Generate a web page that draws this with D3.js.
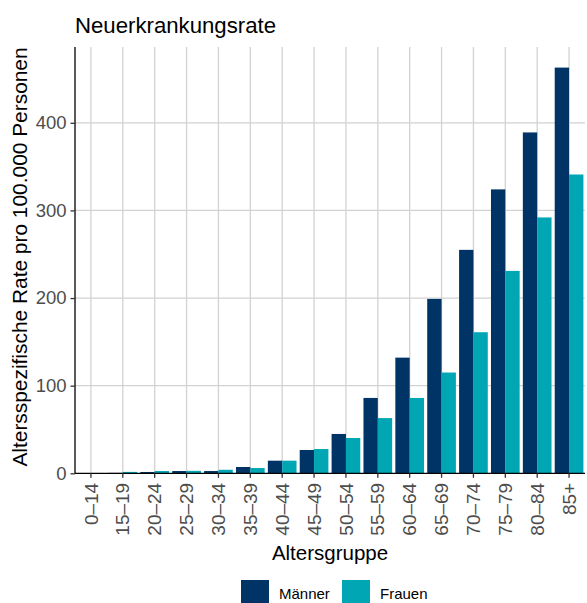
<!DOCTYPE html>
<html><head><meta charset="utf-8">
<script src="https://cdn.jsdelivr.net/npm/d3@7"></script>
<style>body{margin:0;background:#fff}svg{display:block;font-family:"Liberation Sans",Arial,sans-serif}</style>
</head><body><svg id="c" width="587" height="603"></svg>
<script>
const categories = ["0–14","15–19","20–24","25–29","30–34","35–39","40–44","45–49","50–54","55–59","60–64","65–69","70–74","75–79","80–84","85+"];
const maenner = [0.3,0.5,1.5,2.6,2.6,7.2,14.4,26.6,44.9,86,132,199,255,324,389,463];
const frauen  = [0.2,1.6,2.6,2.8,4.0,6.0,14.4,27.7,40.3,63,86,115,161,231,292,341];
const seriesNames = ["Männer","Frauen"];
const colors = ["#003366","#00a6b4"];
const yTicks = [0,100,200,300,400];

const svg = d3.select("#c");
const L=75, R=585, T=47, B=473.3;
const x = d3.scaleBand().domain(categories).range([L,R]).padding(0);
const y = d3.scaleLinear().domain([0,486.5]).range([B,T]);
const inner = d3.scaleBand().domain(seriesNames).range([0,x.bandwidth()*0.9]);

// gridlines
svg.append("g").selectAll("line").data(yTicks.filter(d=>d>0)).join("line")
  .attr("x1",L).attr("x2",R).attr("y1",d=>y(d)).attr("y2",d=>y(d))
  .attr("stroke","#d2d2d2").attr("stroke-width",1.3);
svg.append("g").selectAll("line").data(categories).join("line")
  .attr("x1",d=>x(d)+x.bandwidth()/2).attr("x2",d=>x(d)+x.bandwidth()/2)
  .attr("y1",T).attr("y2",B)
  .attr("stroke","#d2d2d2").attr("stroke-width",1.3);

// bars
const data = categories.map((c,i)=>({c, vals:[maenner[i],frauen[i]]}));
const g = svg.append("g").selectAll("g").data(data).join("g")
  .attr("transform",d=>`translate(${x(d.c)+x.bandwidth()*0.05},0)`);
g.selectAll("rect").data(d=>d.vals.map((v,j)=>({v,s:seriesNames[j],j}))).join("rect")
  .attr("x",d=>inner(d.s)).attr("width",inner.bandwidth())
  .attr("y",d=>y(d.v)).attr("height",d=>B-y(d.v))
  .attr("fill",d=>colors[d.j]);

// axes
const yAxis = svg.append("g").attr("transform",`translate(${L},0)`)
  .call(d3.axisLeft(y).tickValues(yTicks).tickSize(4.5).tickPadding(4));
yAxis.select(".domain").attr("d",`M0,${T}V${B}`).attr("stroke","#000").attr("stroke-width",1.3);
yAxis.selectAll(".tick line").attr("stroke","#333").attr("stroke-width",1.3);
yAxis.selectAll(".tick text").attr("font-size",18.5).attr("fill","#4d4d4d").attr("font-family","Liberation Sans, Arial, sans-serif");

const xAxis = svg.append("g").attr("transform",`translate(0,${B})`)
  .call(d3.axisBottom(x).tickSize(4.5).tickPadding(4).tickSizeOuter(0));
xAxis.select(".domain").attr("d",`M${L},0H${R}`).attr("stroke","#000").attr("stroke-width",1.3);
xAxis.selectAll(".tick line").attr("stroke","#333").attr("stroke-width",1.3);
xAxis.selectAll(".tick text").attr("font-size",19).attr("fill","#4d4d4d")
  .attr("font-family","Liberation Sans, Arial, sans-serif")
  .attr("transform","rotate(-90)").attr("text-anchor","end")
  .attr("x",-9.5).attr("y",0).attr("dy","0.35em");

// titles
svg.append("text").attr("x",L).attr("y",33).attr("font-size",22.2).attr("fill","#000").text("Neuerkrankungsrate");
svg.append("text").attr("x",(L+R)/2).attr("y",560).attr("text-anchor","middle").attr("font-size",20.5).attr("fill","#000").text("Altersgruppe");
svg.append("text").attr("transform",`translate(27,257) rotate(-90)`).attr("text-anchor","middle").attr("font-size",20.9).attr("fill","#000").text("Altersspezifische Rate pro 100.000 Personen");

// legend
const leg = svg.append("g");
const legX = [241,342];
seriesNames.forEach((s,i)=>{
  leg.append("rect").attr("x",legX[i]).attr("y",580).attr("width",28).attr("height",28).attr("fill",colors[i]);
  leg.append("text").attr("x",legX[i]+38).attr("y",599).attr("font-size",15).attr("fill","#000").text(s);
});
</script></body></html>
